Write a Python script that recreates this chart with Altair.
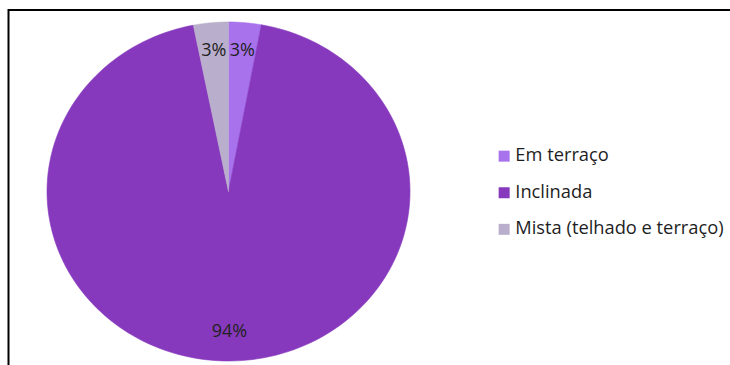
import altair as alt
import pandas as pd

# ---- data ----
categories = ["Em terraço", "Inclinada", "Mista (telhado e terraço)"]
values = [2.9, 94.0, 3.1]
colors = ["#A772EC", "#8739BD", "#B9AECB"]

N = 180  # arc resolution for drawing the (elliptical) pie outline

df = pd.DataFrame({
    "categoria": categories,
    "valor": values,
    "ordem": list(range(len(categories))),
})

FONT = "Open Sans"
color_scale = alt.Scale(domain=categories, range=colors)
xs = alt.Scale(domain=[-1, 1], nice=False, zero=False)
ys = alt.Scale(domain=[-1, 1], nice=False, zero=False)

base = (
    alt.Chart(df)
    .transform_window(cum="sum(valor)", sort=[alt.SortField("ordem")], frame=[None, 0])
    .transform_joinaggregate(total="sum(valor)")
    .transform_calculate(t0="(datum.cum - datum.valor) / datum.total")
    .transform_calculate(t1="datum.cum / datum.total")
)

slices = (
    base.transform_calculate(step=f"sequence(0, {N + 3})")
    .transform_flatten(["step"])
    .transform_calculate(edge=f"datum.step >= 1 && datum.step <= {N + 1}")
    .transform_calculate(
        ang=f"2 * PI * (datum.t0 + (datum.t1 - datum.t0) * clamp((datum.step - 1) / {N}, 0, 1))"
    )
    .transform_calculate(px="datum.edge ? sin(datum.ang) : 0")
    .transform_calculate(py="datum.edge ? cos(datum.ang) : 0")
    .mark_line(strokeWidth=0.6, strokeJoin="round", interpolate="linear")
    .encode(
        x=alt.X("px:Q", scale=xs, axis=None),
        y=alt.Y("py:Q", scale=ys, axis=None),
        fill=alt.Fill(
            "categoria:N",
            scale=color_scale,
            sort=categories,
            legend=alt.Legend(
                title=None,
                orient="none",
                legendX=448,
                legendY=125,
                symbolType="square",
                symbolSize=121,
                symbolStrokeWidth=0,
                labelFont=FONT,
                labelFontSize=18.3,
                labelColor="#1e1e1e",
                labelOffset=2,
                rowPadding=17.6,
                padding=0,
                labelLimit=400,
            ),
        ),
        stroke=alt.Stroke("categoria:N", scale=color_scale, legend=None),
        order=alt.Order("step:Q"),
    )
)

labels = (
    base.transform_calculate(mid="PI * (datum.t0 + datum.t1)")
    .transform_calculate(lx="0.83 * sin(datum.mid)")
    .transform_calculate(ly="0.83 * cos(datum.mid)")
    .transform_calculate(txt="format(datum.valor / datum.total, '.0%')")
    .mark_text(font=FONT, fontSize=18, color="#222222", baseline="middle", align="center")
    .encode(
        x=alt.X("lx:Q", scale=xs, axis=None),
        y=alt.Y("ly:Q", scale=ys, axis=None),
        text="txt:N",
    )
)

frame_data = pd.DataFrame({"k": [0]})
top_rule = alt.Chart(frame_data).mark_rule(color="#000000", strokeWidth=2).encode(
    x=alt.value(-39), x2=alt.value(700), y=alt.value(-12)
)
left_rule = alt.Chart(frame_data).mark_rule(color="#000000", strokeWidth=2).encode(
    x=alt.value(-38.5), y=alt.value(-13), y2=alt.value(400)
)

chart = (
    alt.layer(slices, labels, top_rule, left_rule)
    .properties(
        width=363,
        height=339,
        padding={"left": 47, "top": 22, "right": 320, "bottom": 4},
        autosize=alt.AutoSizeParams(type="none"),
        background="white",
    )
    .configure_view(stroke=None)
)

chart.save("out.html", embed_options={"renderer": "svg", "actions": False})
